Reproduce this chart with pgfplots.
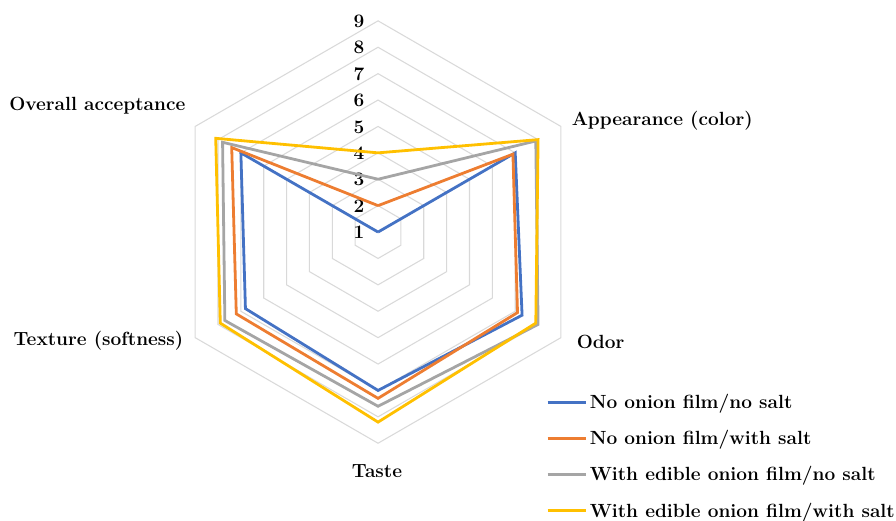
\documentclass[border=0pt]{standalone}
\usepackage{pgfplots}
\pgfplotsset{compat=1.18}
\usepackage{pgfplotstable}
\definecolor{cA}{HTML}{4472C4}
\definecolor{cB}{HTML}{ED7D31}
\definecolor{cC}{HTML}{A5A5A5}
\definecolor{cD}{HTML}{FFC000}
\definecolor{ringcol}{HTML}{D9D9D9}
% angle: direction of the spoke; A..D: scores of the four samples (centre = 1)
\pgfplotstableread{
angle A B C D
90   1.0 2.0 3.0 4.0
30   7.0 6.9 7.9 8.0
-30  7.3 7.1 8.0 7.9
-90  7.0 7.3 7.6 8.2
-150 6.8 7.2 7.7 7.9
150  7.0 7.4 7.8 8.1
90   1.0 2.0 3.0 4.0
}\radar
\begin{document}
\begin{tikzpicture}[font=\fontsize{14.3}{16}\selectfont\bfseries]
\begin{axis}[
  x=19.8pt, y=19.8pt,
  xmin=-14.32, xmax=19.62, ymin=-10.91, ymax=8.79,
  hide axis, clip=false,
  legend cell align=left,
  legend image code/.code={\draw[#1] (0cm,0cm) -- (1cm,0cm);},
  legend style={at={(0.605,0.252)}, anchor=north west, draw=none, fill=none,
    font=\fontsize{14.3}{16}\selectfont\bfseries, row sep=10.8pt,
    nodes={inner sep=2pt}},
]
\pgfplotsinvokeforeach{1,...,8}{
  \draw[ringcol, line width=0.8pt] (axis cs:0,#1) -- (axis cs:{0.8660*#1},{0.5*#1}) -- (axis cs:{0.8660*#1},{-0.5*#1})
   -- (axis cs:0,{-#1}) -- (axis cs:{-0.8660*#1},{-0.5*#1}) -- (axis cs:{-0.8660*#1},{0.5*#1}) -- cycle;
}
\pgfplotsinvokeforeach{1,...,9}{
  \node[anchor=center] at (axis cs:-0.72,{#1-1.02}) {#1};
}
\addplot[cA, line width=2.1pt] table[x expr={(\thisrow{A}-1)*cos(\thisrow{angle})}, y expr={(\thisrow{A}-1)*sin(\thisrow{angle})}] {\radar};
\addlegendentry{No onion film/no salt}
\addplot[cB, line width=2.1pt] table[x expr={(\thisrow{B}-1)*cos(\thisrow{angle})}, y expr={(\thisrow{B}-1)*sin(\thisrow{angle})}] {\radar};
\addlegendentry{No onion film/with salt}
\addplot[cC, line width=2.1pt] table[x expr={(\thisrow{C}-1)*cos(\thisrow{angle})}, y expr={(\thisrow{C}-1)*sin(\thisrow{angle})}] {\radar};
\addlegendentry{With edible onion film/no salt}
\addplot[cD, line width=2.1pt] table[x expr={(\thisrow{D}-1)*cos(\thisrow{angle})}, y expr={(\thisrow{D}-1)*sin(\thisrow{angle})}] {\radar};
\addlegendentry{With edible onion film/with salt}
\node[anchor=mid west] at (axis cs:7.16,4.13) {Appearance (color)};
\node[anchor=mid west] at (axis cs:7.35,-4.32) {Odor};
\node[anchor=mid] at (axis cs:-0.04,-9.2) {Taste};
\node[anchor=mid east] at (axis cs:-7.2,-4.20) {Texture (softness)};
\node[anchor=mid east] at (axis cs:-7.12,4.73) {Overall acceptance};
\coordinate (bl) at (axis cs:-14.32,-10.91);
\coordinate (tr) at (axis cs:19.62,8.79);
\end{axis}
\pgfresetboundingbox
\useasboundingbox (bl) rectangle (tr);
\end{tikzpicture}
\end{document}
